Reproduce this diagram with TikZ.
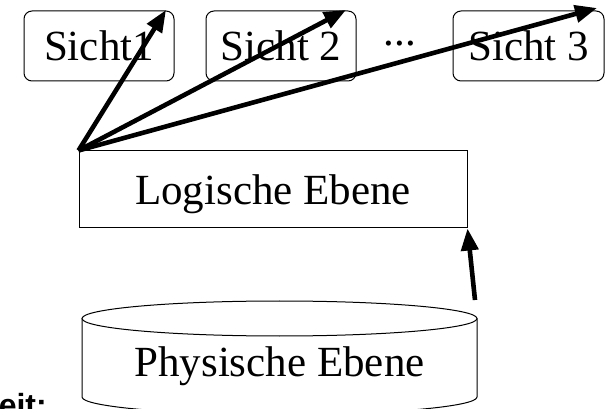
\documentclass[tikz,border=0pt]{standalone}
\usepackage{fontspec}
\setmainfont{Liberation Serif}
\setsansfont{Liberation Sans}
\usetikzlibrary{arrows.meta}
\begin{document}
\begin{tikzpicture}[x=1pt,y=-1pt,
  lbl/.style={font=\fontsize{43}{50}\selectfont},
  viewbox/.style={draw, line width=1pt, rounded corners=8pt, minimum width=150pt, minimum height=70pt, inner sep=0pt, text depth=0pt, lbl},
  levelbox/.style={draw, line width=1pt, minimum width=388pt, minimum height=77pt, inner sep=0pt, text depth=0pt, lbl},
  bigarrow/.style={line width=4.6pt, -{Triangle[length=22pt,width=17pt]}},
  thinline/.style={line width=1pt}
]
\useasboundingbox (0,0) rectangle (606,409);
\clip (0,0) rectangle (606,409);
\node[viewbox] (s1) at (99,46) {Sicht1};
\node[viewbox] (s2) at (281,46) {Sicht 2};
\node[lbl, anchor=base, inner sep=0pt] (dots) at (400,46) {...};
\node[viewbox, minimum width=151pt] (s3) at (528.5,46) {Sicht 3};
\node[levelbox] (log) at (273,189.5) {Logische Ebene};
% cylinder
\draw[thinline] (82,318.5) -- (82,397) arc[start angle=180, end angle=0, x radius=197.5, y radius=17.5] -- (477,318.5);
\draw[thinline, fill=white] (279.5,318.5) ellipse[x radius=197.5, y radius=17.5];
\node[lbl, anchor=base] (phys) at (279.5,377) {Physische Ebene};
% arrow ends
\coordinate (t1) at (166,10);
\coordinate (t2) at (346,10);
\coordinate (t3) at (597,8);
\coordinate (tail) at (475,300);
\draw[bigarrow] (log.north west) -- (t1);
\draw[bigarrow] (log.north west) -- (t2);
\draw[bigarrow] (log.north west) -- (t3);
\draw[bigarrow] (tail) -- (log.south east);
\node[font=\sffamily\bfseries\fontsize{32}{38}\selectfont, anchor=base east, inner sep=0pt] (eit) at (47,416) {eit:};
\end{tikzpicture}
\end{document}
